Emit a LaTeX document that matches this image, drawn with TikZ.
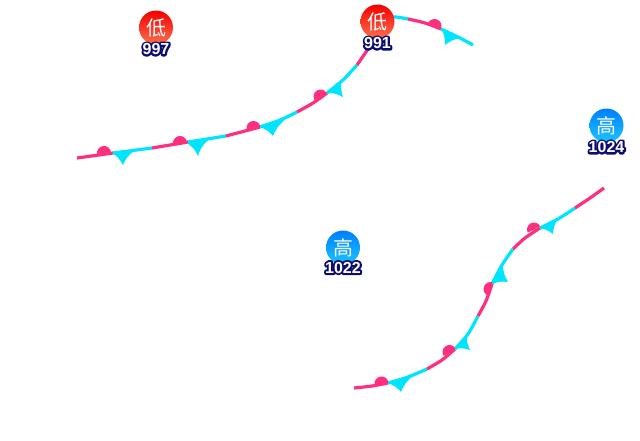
\documentclass[tikz,border=0pt]{standalone}
\usepackage{fontspec}
\setmainfont{Liberation Sans}
\newfontfamily\cjk{Noto Sans CJK SC}
\usetikzlibrary{positioning}
\definecolor{warmc}{HTML}{FF2F7F}
\definecolor{coldc}{HTML}{00E5FF}
\newcommand{\halotext}[1]{\rlap{\special{pdf:code q 1 Tr 4 w 1 j 0.05 0.05 0.44 RG}#1\special{pdf:code Q}}#1}
\tikzset{
  center/.style = {circle, inner sep=0pt, minimum size=34pt, text=white, font=\cjk\fontsize{20}{20}\selectfont},
  low/.style = {center, top color=red!95!black, bottom color=red!60!orange!70!white},
  high/.style = {center, top color=blue!10!cyan!55!blue, bottom color=cyan!75!blue!90!white},
  press/.style = {inner sep=0pt, text=white, font=\bfseries\fontsize{16}{16}\selectfont},
  warmline/.style = {draw=warmc, line width=3.2pt},
  coldline/.style = {draw=coldc, line width=3.2pt},
  barb/.style = {fill=coldc, bend left=15},
  warmdot/.style = {fill=warmc}
}
\newcommand{\warm}[2]{\path[warmdot, shift={(#1)}, rotate=#2] (-7,0) arc (180:360:7) -- cycle;}
\newcommand{\cold}[3]{\path[barb] (#1) to (#2) to (#3) -- cycle;}
\begin{document}
\begin{tikzpicture}[x=1pt,y=-1pt]
\useasboundingbox (0,0) rectangle (640,440);

% first front
\draw[warmline] plot[smooth] coordinates {(77,158) (113,153)};
\draw[coldline] plot[smooth] coordinates {(113,153) (152,148)};
\draw[warmline] plot[smooth] coordinates {(152,148) (188,142)};
\draw[coldline] plot[smooth] coordinates {(188,142) (226,136)};
\draw[warmline] plot[smooth] coordinates {(226,136) (260,127)};
\draw[coldline] plot[smooth] coordinates {(260,127) (280,120) (297,112)};
\draw[warmline] plot[smooth] coordinates {(297,112) (313,103) (327,93)};
\draw[coldline] plot[smooth] coordinates {(327,93) (343,80) (357,65)};
\draw[warmline] plot[smooth] coordinates {(357,65) (366,52) (378,35)};
\draw[coldline] plot[smooth] coordinates {(385,18) (396,17) (408,19)};
\draw[warmline] plot[smooth] coordinates {(408,19) (425,23) (441,29)};
\draw[coldline] plot[smooth] coordinates {(441,29) (458,37) (473,45)};
\warm{104,153}{8}
\warm{180,143}{10}
\warm{253.5,128}{18}
\warm{320.5,96.5}{30}
\warm{434.5,26}{-18}
\cold{112,153}{123,165}{134,151}
\cold{187,143}{198,156}{208,140}
\cold{260,127}{273,136}{287,118}
\cold{327,93}{343,97}{342,79}
\cold{441,28}{445,45}{461,38}

% second front
\draw[warmline] plot[smooth] coordinates {(354,388) (372,386) (388,383)};
\draw[coldline] plot[smooth] coordinates {(388,383) (408,377) (427,369)};
\draw[warmline] plot[smooth] coordinates {(427,369) (442,360) (455,349)};
\draw[coldline] plot[smooth] coordinates {(455,349) (468,334) (478,316)};
\draw[warmline] plot[smooth] coordinates {(478,316) (486,301) (492,284)};
\draw[coldline] plot[smooth] coordinates {(492,284) (502,265) (513,249)};
\draw[warmline] plot[smooth] coordinates {(513,249) (525,238) (540,228)};
\draw[coldline] plot[smooth] coordinates {(540,228) (558,219) (575,208)};
\draw[warmline] plot[smooth] coordinates {(575,208) (590,198) (604,188)};
\warm{381.5,383.5}{8}
\warm{449.5,352}{35}
\warm{490.5,289}{67}
\warm{534,229.5}{27}
\cold{388,383}{401,392}{413,376}
\cold{455,349}{470,350}{467,334}
\cold{492,284}{508,282}{503,265}
\cold{539,228}{553,234}{558,219}

% pressure centers
\node[low] (lowa) at (156,27.5) {低};
\node[low] (lowb) at (377.5,21.5) {低};
\node[high] (higha) at (606.5,125.5) {高};
\node[high] (highb) at (343,247.5) {高};
\node[press, below=-1.5pt of lowa] (pa) {\halotext{997}};
\node[press, below=-1.5pt of lowb] (pb) {\halotext{991}};
\node[press, below=-1.5pt of higha] (pc) {\halotext{1024}};
\node[press, below=-3pt of highb] (pd) {\halotext{1022}};
\end{tikzpicture}
\end{document}
